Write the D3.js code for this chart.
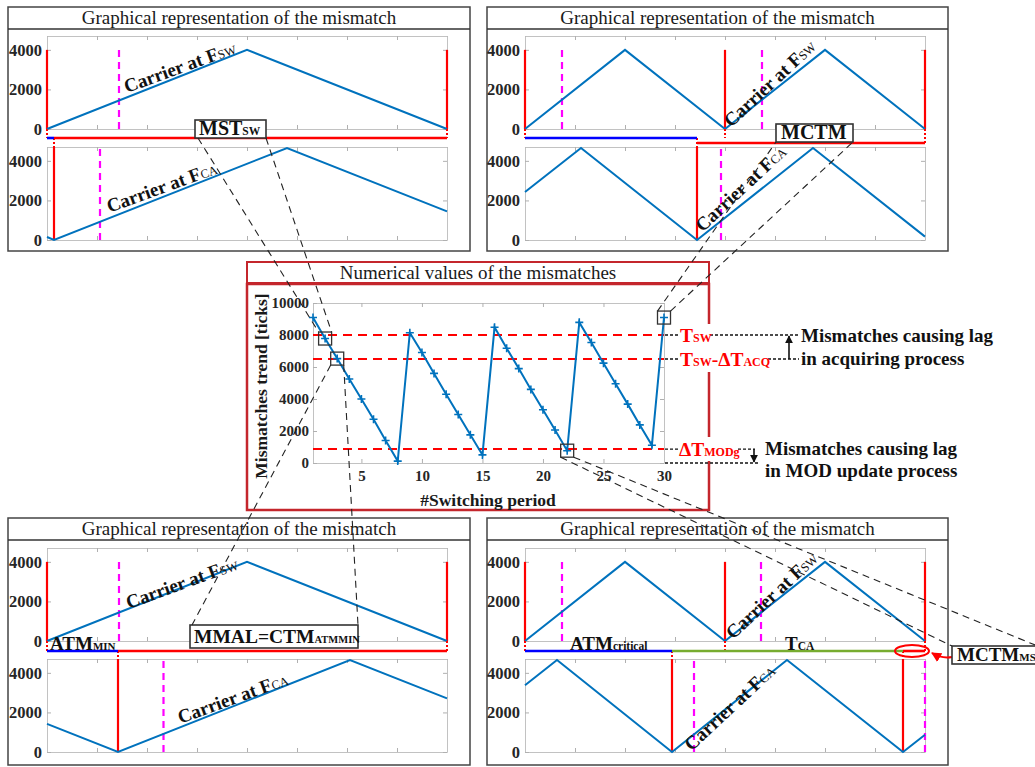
<!DOCTYPE html>
<html>
<head>
<meta charset="utf-8">
<script src="https://cdn.jsdelivr.net/npm/d3@7"></script>
<style>
  body { margin: 0; background: #fff; }
  svg { display: block; font-family: "Liberation Serif", "Times New Roman", serif; }
</style>
</head>
<body>
<svg id="fig" width="1035" height="767"></svg>
<script>
// ---------- data ----------

// centre chart: mismatch per switching period
var periods = d3.range(1, 31);
var mismatch = [9090, 7780, 6525, 5250, 4000, 2730, 1410, 120,
                8140, 6910, 5600, 4300, 3030, 1760, 505,
                8480, 7170, 5900, 4600, 3330, 2060, 770,
                8790, 7535, 6240, 4950, 3680, 2380, 1110, 9090];
var mainYTicks = [0, 2000, 4000, 6000, 8000, 10000];
var mainXTicks = [5, 10, 15, 20, 25, 30];
var thresholds = [8000, 6500, 870];        // Tsw, Tsw-dTacq, dTmodg
var boxedPeriods = [2, 3, 22, 30];

// carrier sub-plots (x in grid divisions 0..8)
var subYTicks = [0, 2000, 4000];
var subXTicks = d3.range(0, 9);

// top-left
var tlSwX = [0, 4, 8],            tlSwY = [0, 4000, 0];
var tlCaX = [0, 0.14, 4.8, 8],    tlCaY = [150, 0, 4650, 1450];
var tlSwRed = [0, 8], tlSwMag = [1.44], tlCaRed = [0.14], tlCaMag = [1.06];
var tlStrip = [0, 0.14, 8];
// top-right
var trSwX = [0, 2, 4, 6, 8],          trSwY = [0, 4000, 0, 4000, 0];
var trCaX = [0, 1.12, 3.44, 5.76, 8], trCaY = [2430, 4650, 0, 4650, 170];
var trSwRed = [0, 4, 8], trSwMag = [0.74, 4.74], trCaRed = [3.44], trCaMag = [3.92];
var trStrip = [0, 3.44, 8];
// bottom-left
var blSwX = [0, 4, 8],             blSwY = [0, 4000, 0];
var blCaX = [0, 1.42, 6.06, 8],    blCaY = [1420, 0, 4650, 2710];
var blSwRed = [0, 8], blSwMag = [1.44], blCaRed = [1.42], blCaMag = [2.33];
var blStrip = [0, 1.42, 8];
// bottom-right
var brSwX = [0, 2, 4, 6, 8],                brSwY = [0, 4000, 0, 4000, 0];
var brCaX = [0, 0.64, 2.94, 5.24, 7.56, 8], brCaY = [3370, 4650, 0, 4650, 0, 870];
var brSwRed = [0, 4, 8], brSwMag = [0.74, 4.72], brCaRed = [2.94, 7.56], brCaMag = [3.38, 8];
var brStrip = [0, 2.94, 7.56, 8];

// ---------- drawing ----------
var svg = d3.select("#fig");
var BLUE = "#0072bd", RED = "#ff0000", MAG = "#ff00ff", DARKRED = "#c4262c";
var SERIF = "Liberation Serif, Times New Roman, serif";

var defs = svg.append("defs");
function arrowMarker(id, color) {
  defs.append("marker").attr("id", id)
    .attr("viewBox", "0 0 10 10").attr("refX", 9).attr("refY", 5)
    .attr("markerWidth", 5).attr("markerHeight", 5).attr("orient", "auto")
    .append("path").attr("d", "M0,0 L10,5 L0,10 z").attr("fill", color);
}
arrowMarker("arrBlack", "#111");
arrowMarker("arrRed", RED);

// text with small "subscript" parts on the same baseline
function label(g, x, y, parts, opt) {
  opt = opt || {};
  var t = g.append("text").attr("x", x).attr("y", y)
    .attr("text-anchor", opt.anchor || "start")
    .attr("font-family", SERIF)
    .attr("fill", opt.fill || "#111");
  if (opt.rotate) t.attr("transform", "rotate(" + opt.rotate + "," + x + "," + y + ")");
  parts.forEach(function(p) {
    t.append("tspan").attr("font-size", p[1]).attr("font-weight", p[2] || "bold").text(p[0]);
  });
  return t;
}
function boxLabel(g, x, y, w, h, parts, tx, ty) {
  g.append("rect").attr("x", x).attr("y", y).attr("width", w).attr("height", h)
    .attr("fill", "#fff").attr("stroke", "#333").attr("stroke-width", 1.6);
  label(g, tx, ty, parts);
}

function styleAxis(sel) {
  sel.select(".domain").attr("stroke", "#c2c2c2");
  sel.selectAll(".tick line").attr("stroke", "#b0b0b0");
  sel.selectAll(".tick text").attr("fill", "#262626").attr("font-weight", "bold")
    .attr("font-family", SERIF);
}

function drawSub(g, x, top, bottom, lx, ly, reds, mags, redTop) {
  var y = d3.scaleLinear().domain([0, 4700]).range([bottom, top]);
  var x0 = x.range()[0], x1 = x.range()[1];
  g.append("rect").attr("x", x0).attr("y", top).attr("width", x1 - x0).attr("height", bottom - top)
    .attr("fill", "#fff");
  g.append("g").attr("transform", "translate(0," + bottom + ")")
    .call(d3.axisBottom(x).tickValues(subXTicks).tickSizeInner(-4).tickSizeOuter(0).tickFormat(""))
    .call(styleAxis);
  g.append("g").attr("transform", "translate(0," + top + ")")
    .call(d3.axisTop(x).tickValues(subXTicks).tickSizeInner(-4).tickSizeOuter(0).tickFormat(""))
    .call(styleAxis);
  g.append("g").attr("transform", "translate(" + x1 + ",0)")
    .call(d3.axisRight(y).tickValues(subYTicks).tickSizeInner(-4).tickSizeOuter(0).tickFormat(""))
    .call(styleAxis);
  g.append("g").attr("transform", "translate(" + x0 + ",0)")
    .call(d3.axisLeft(y).tickValues(subYTicks).tickSizeInner(-4).tickSizeOuter(0).tickPadding(5)
      .tickFormat(d3.format("d")))
    .call(styleAxis)
    .call(function(a) { a.selectAll(".tick text").attr("font-size", 16.5); });

  g.selectAll(null).data(mags).enter().append("line")
    .attr("x1", function(d) { return x(d); }).attr("x2", function(d) { return x(d); })
    .attr("y1", y(0)).attr("y2", y(redTop))
    .attr("stroke", MAG).attr("stroke-width", 2.2).attr("stroke-dasharray", "7,5");
  g.selectAll(null).data(reds).enter().append("line")
    .attr("x1", function(d) { return x(d); }).attr("x2", function(d) { return x(d); })
    .attr("y1", y(0)).attr("y2", y(redTop))
    .attr("stroke", RED).attr("stroke-width", 2.2);
  var pts = lx.map(function(v, i) { return [v, ly[i]]; });
  g.append("path").datum(pts)
    .attr("d", d3.line().x(function(d) { return x(d[0]); }).y(function(d) { return y(d[1]); }))
    .attr("fill", "none").attr("stroke", BLUE).attr("stroke-width", 2);
  return y;
}

function drawPanel(p) {
  var g = svg.append("g");
  g.append("rect").attr("x", p.box[0]).attr("y", p.box[1]).attr("width", p.box[2]).attr("height", p.box[3])
    .attr("fill", "#fff").attr("stroke", "#444").attr("stroke-width", 1.5);
  g.append("line").attr("x1", p.box[0]).attr("x2", p.box[0] + p.box[2])
    .attr("y1", p.box[1] + 22).attr("y2", p.box[1] + 22)
    .attr("stroke", "#333").attr("stroke-width", 1.5);
  g.append("text").attr("x", p.box[0] + p.box[2] / 2).attr("y", p.box[1] + 17)
    .attr("text-anchor", "middle").attr("font-size", 19).attr("fill", "#1a1a1a")
    .attr("font-family", SERIF)
    .text("Graphical representation of the mismatch");

  var x = d3.scaleLinear().domain([0, 8]).range([p.left, p.left + 400]);
  var y1 = drawSub(g, x, p.sub1[0], p.sub1[1], p.sw[0], p.sw[1], p.sw[2], p.sw[3], 4000);
  var y2 = drawSub(g, x, p.sub2[0], p.sub2[1], p.ca[0], p.ca[1], p.ca[2], p.ca[3], 4700);

  // dotted red joins between plots and strip
  p.sw[2].forEach(function(d) {
    g.append("line").attr("x1", x(d)).attr("x2", x(d)).attr("y1", y1(0)).attr("y2", p.strip + (d === 8 ? p.stripDy[p.stripDy.length - 1] : 0))
      .attr("stroke", RED).attr("stroke-width", 2).attr("stroke-dasharray", "2,2");
  });
  p.ca[2].forEach(function(d) {
    g.append("line").attr("x1", x(d)).attr("x2", x(d)).attr("y1", p.strip).attr("y2", p.sub2[0])
      .attr("stroke", RED).attr("stroke-width", 2).attr("stroke-dasharray", "2,2");
  });
  // timing strip
  for (var i = 0; i < p.stripBreaks.length - 1; i++) {
    g.append("line").attr("x1", x(p.stripBreaks[i])).attr("x2", x(p.stripBreaks[i + 1]))
      .attr("y1", p.strip + p.stripDy[i]).attr("y2", p.strip + p.stripDy[i])
      .attr("stroke", p.stripColors[i]).attr("stroke-width", 2.6);
  }
  p.labels.forEach(function(l) {
    label(g, l.x, l.y, [["Carrier at F", 19, "bold"], [l.sub, 12.5, "normal"]],
      { anchor: "middle", rotate: l.rot });
  });
  return g;
}

var gTL = drawPanel({
  box: [8, 7, 462, 244], left: 47, sub1: [36, 129], sub2: [147, 240], strip: 138,
  sw: [tlSwX, tlSwY, tlSwRed, tlSwMag], ca: [tlCaX, tlCaY, tlCaRed, tlCaMag],
  stripBreaks: tlStrip, stripDy: [0, 0], stripColors: ["#0000ff", RED],
  labels: [{ x: 182, y: 73, sub: "SW", rot: -20 }, { x: 164, y: 193, sub: "CA", rot: -20 }]
});
var gTR = drawPanel({
  box: [487, 7, 461, 244], left: 525, sub1: [36, 129], sub2: [147, 240], strip: 138,
  sw: [trSwX, trSwY, trSwRed, trSwMag], ca: [trCaX, trCaY, trCaRed, trCaMag],
  stripBreaks: trStrip, stripDy: [0, 5], stripColors: ["#0000ff", RED],
  labels: [{ x: 774, y: 88, sub: "SW", rot: -43 }, { x: 745, y: 193, sub: "CA", rot: -43 }]
});
var gBL = drawPanel({
  box: [8, 518, 462, 247], left: 47, sub1: [548, 641], sub2: [659, 752], strip: 651,
  sw: [blSwX, blSwY, blSwRed, blSwMag], ca: [blCaX, blCaY, blCaRed, blCaMag],
  stripBreaks: blStrip, stripDy: [0, 0], stripColors: ["#0000ff", RED],
  labels: [{ x: 184, y: 589, sub: "SW", rot: -20 }, { x: 235, y: 704, sub: "CA", rot: -20 }]
});
var gBR = drawPanel({
  box: [487, 518, 461, 247], left: 525, sub1: [548, 641], sub2: [659, 752], strip: 651,
  sw: [brSwX, brSwY, brSwRed, brSwMag], ca: [brCaX, brCaY, brCaRed, brCaMag],
  stripBreaks: brStrip, stripDy: [0, 0, 0], stripColors: ["#0000ff", "#77ac30", RED],
  labels: [{ x: 776, y: 600, sub: "SW", rot: -43 }, { x: 734, y: 712, sub: "CA", rot: -43 }]
});

// panel annotations
boxLabel(gTL, 195, 120, 71, 18, [["MST", 20], ["SW", 11.5]], 199, 135);
boxLabel(gTR, 776, 124, 77, 18, [["MCTM", 20]], 781, 139);
label(gBL, 50, 650, [["ATM", 19], ["MIN", 11]]);
boxLabel(gBL, 190, 625, 168, 23, [["MMAL=CTM", 19.5], ["ATMMIN", 10.5]], 194, 643);
label(gBR, 570, 650, [["ATM", 19], ["critical", 11.5]]);
label(gBR, 785, 650, [["T", 19], ["CA", 11.5]]);
gBR.append("ellipse").attr("cx", 912).attr("cy", 651).attr("rx", 17).attr("ry", 6)
  .attr("fill", "none").attr("stroke", RED).attr("stroke-width", 2);
gBR.append("path").attr("d", "M952,657 Q942,659 932,653")
  .attr("fill", "none").attr("stroke", RED).attr("stroke-width", 2).attr("marker-end", "url(#arrRed)");
boxLabel(gBR, 952, 646, 100, 18, [["MCTM", 19], ["MS", 11]], 957, 661);

// ---------- centre chart ----------
var gC = svg.append("g");
gC.append("rect").attr("x", 247).attr("y", 262).attr("width", 462).attr("height", 21)
  .attr("fill", "#fff").attr("stroke", DARKRED).attr("stroke-width", 2);
gC.append("rect").attr("x", 247).attr("y", 284).attr("width", 462).attr("height", 226)
  .attr("fill", "#fff").attr("stroke", DARKRED).attr("stroke-width", 2.5);
gC.append("text").attr("x", 478).attr("y", 279).attr("text-anchor", "middle")
  .attr("font-family", SERIF)
  .attr("font-size", 19).attr("fill", "#1a1a1a").text("Numerical values of the mismatches");

var mx = d3.scaleLinear().domain([1, 30]).range([313, 664]);
var my = d3.scaleLinear().domain([0, 10000]).range([463, 303]);

gC.append("g").attr("transform", "translate(0,463)")
  .call(d3.axisBottom(mx).tickValues(mainXTicks).tickSizeInner(-4).tickSizeOuter(0).tickPadding(7))
  .call(styleAxis).call(function(a) { a.selectAll(".tick text").attr("font-size", 15); });
gC.append("g").attr("transform", "translate(0,303)")
  .call(d3.axisTop(mx).tickValues(mainXTicks).tickSizeInner(-4).tickSizeOuter(0).tickFormat(""))
  .call(styleAxis);
gC.append("g").attr("transform", "translate(313,0)")
  .call(d3.axisLeft(my).tickValues(mainYTicks).tickSizeInner(-4).tickSizeOuter(0).tickPadding(4)
    .tickFormat(d3.format("d")))
  .call(styleAxis).call(function(a) { a.selectAll(".tick text").attr("font-size", 15); });
gC.append("g").attr("transform", "translate(664,0)")
  .call(d3.axisRight(my).tickValues(mainYTicks).tickSizeInner(-4).tickSizeOuter(0).tickFormat(""))
  .call(styleAxis);

gC.append("text").attr("transform", "translate(267,386) rotate(-90)").attr("text-anchor", "middle")
  .attr("font-family", SERIF)
  .attr("font-size", 17.5).attr("font-weight", "bold").attr("fill", "#1a1a1a").text("Mismatches trend [ticks]");
gC.append("text").attr("x", 488).attr("y", 506).attr("text-anchor", "middle")
  .attr("font-family", SERIF)
  .attr("font-size", 17.5).attr("font-weight", "bold").attr("fill", "#1a1a1a").text("#Switching period");

// thresholds
gC.selectAll(".thr").data(thresholds).enter().append("line").attr("class", "thr")
  .attr("x1", mx(1)).attr("x2", mx(30))
  .attr("y1", function(d) { return my(d); }).attr("y2", function(d) { return my(d); })
  .attr("stroke", RED).attr("stroke-width", 2).attr("stroke-dasharray", "9,6");

// trend line and + markers
var pts = periods.map(function(p, i) { return [p, mismatch[i]]; });
gC.append("path").datum(pts)
  .attr("d", d3.line().x(function(d) { return mx(d[0]); }).y(function(d) { return my(d[1]); }))
  .attr("fill", "none").attr("stroke", BLUE).attr("stroke-width", 2);
gC.selectAll(".pl").data(pts).enter().append("path").attr("class", "pl")
  .attr("d", function(d) {
    var cx = mx(d[0]), cy = my(d[1]);
    return "M" + (cx - 4) + "," + cy + "H" + (cx + 4) + "M" + cx + "," + (cy - 4) + "V" + (cy + 4);
  })
  .attr("stroke", BLUE).attr("stroke-width", 1.6);

// boxed points
gC.selectAll(".sq").data(boxedPeriods).enter().append("rect").attr("class", "sq")
  .attr("x", function(d) { return mx(d) - 6.5; })
  .attr("y", function(d) { return my(mismatch[d - 1]) - 6.5; })
  .attr("width", 13).attr("height", 13)
  .attr("fill", "none").attr("stroke", "#333").attr("stroke-width", 1.3);

// right-hand labels on the border
gC.append("rect").attr("x", 678).attr("y", 324).attr("width", 92).attr("height", 48).attr("fill", "#fff");
gC.append("rect").attr("x", 676).attr("y", 437).attr("width", 63).attr("height", 24).attr("fill", "#fff");

function dotted(x1, x2, yv) {
  gC.append("line").attr("x1", x1).attr("x2", x2).attr("y1", yv).attr("y2", yv)
    .attr("stroke", "#111").attr("stroke-width", 1.3).attr("stroke-dasharray", "3,2");
}
var yT = my(thresholds[0]), yA = my(thresholds[1]), yM = my(thresholds[2]), y0 = my(0);
dotted(665, 678, yT); dotted(710, 799, yT);
dotted(665, 678, yA); dotted(768, 799, yA);
dotted(665, 678, yM); dotted(738, 755, yM);
dotted(665, 758, y0);

label(gC, 680, yT + 6.5, [["T", 19.5], ["SW", 12]], { fill: RED });
label(gC, 680, yA + 6.5, [["T", 19.5], ["SW", 12], ["-\u0394T", 19.5], ["ACQ", 12]], { fill: RED });
label(gC, 679, yM + 6.5, [["\u0394T", 19.5], ["MODg", 12]], { fill: RED });

gC.append("line").attr("x1", 789).attr("x2", 789).attr("y1", yA).attr("y2", yT + 1)
  .attr("stroke", "#111").attr("stroke-width", 1.6).attr("marker-end", "url(#arrBlack)");
gC.append("line").attr("x1", 754).attr("x2", 754).attr("y1", yM).attr("y2", y0 - 1)
  .attr("stroke", "#111").attr("stroke-width", 1.6).attr("marker-end", "url(#arrBlack)");

label(gC, 801, 342, [["Mismatches causing lag", 19]]);
label(gC, 801, 365, [["in acquiring process", 19]]);
label(gC, 765, 455, [["Mismatches causing lag", 19]]);
label(gC, 765, 477, [["in MOD update process", 19]]);

// ---------- dashed leader lines ----------
function corner(period, dx, dy) { return [mx(period) + dx, my(mismatch[period - 1]) + dy]; }
var leaders = [
  [[198, 138], corner(2, -6.5, -6.5)],
  [[266, 138], corner(2, 6.5, -6.5)],
  [corner(3, -6.5, 6.5), [192, 625]],
  [corner(3, 6.5, 6.5), [358, 625]],
  [corner(30, -6.5, -6.5), [776, 142]],
  [corner(30, 6.5, -6.5), [853, 142]],
  [corner(22, -6.5, 6.5), [952, 646]],
  [corner(22, 6.5, 6.5), [1045, 649]]
];
svg.append("g").selectAll("line").data(leaders).enter().append("line")
  .attr("x1", function(d) { return d[0][0]; }).attr("y1", function(d) { return d[0][1]; })
  .attr("x2", function(d) { return d[1][0]; }).attr("y2", function(d) { return d[1][1]; })
  .attr("stroke", "#222").attr("stroke-width", 1.1).attr("stroke-dasharray", "7,5");
</script>
</body>
</html>
